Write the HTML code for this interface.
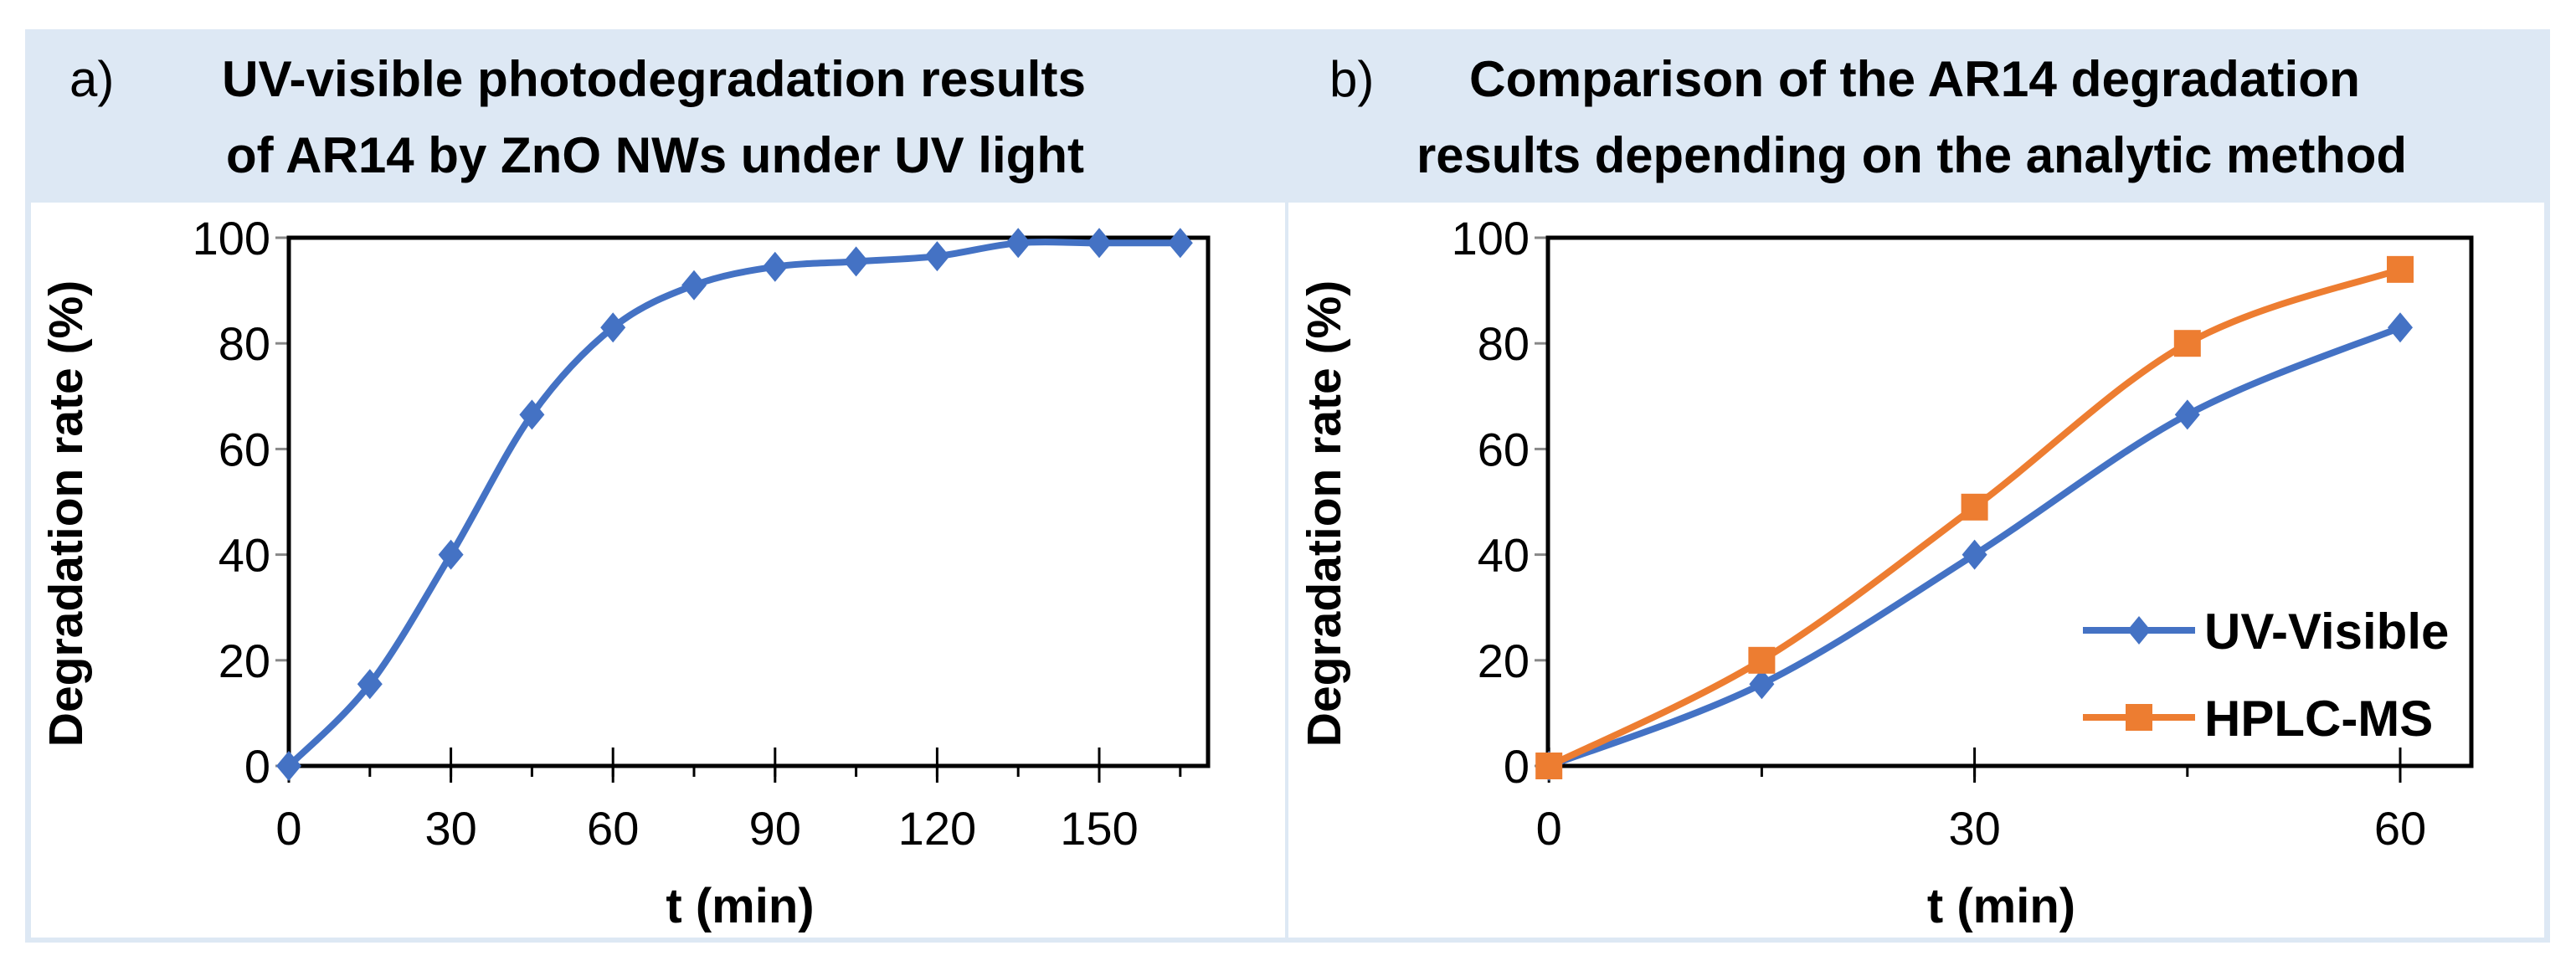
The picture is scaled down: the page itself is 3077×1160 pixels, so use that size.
<!DOCTYPE html>
<html><head><meta charset="utf-8"><style>
html,body{margin:0;padding:0;background:#fff;}
svg{display:block;}
text{font-family:"Liberation Sans Narrow","Liberation Sans",sans-serif;fill:#000;}
</style></head><body>
<svg id="fig" width="3077" height="1160" viewBox="0 0 3077 1160" xmlns="http://www.w3.org/2000/svg">
<rect x="30" y="35" width="3016" height="1091" fill="#dde8f4"/>
<rect x="37" y="242" width="1498" height="878" fill="#fff"/>
<rect x="1539" y="242" width="1500" height="878" fill="#fff"/>
<text x="83" y="115" font-size="60">a)</text>
<text x="265" y="115" font-size="60" font-weight="bold" textLength="1032" lengthAdjust="spacingAndGlyphs">UV-visible photodegradation results</text>
<text x="270" y="206" font-size="60" font-weight="bold" textLength="1025" lengthAdjust="spacingAndGlyphs">of AR14 by ZnO NWs under UV light</text>
<text x="1588" y="115" font-size="60">b)</text>
<text x="1755" y="115" font-size="60" font-weight="bold" textLength="1064" lengthAdjust="spacingAndGlyphs">Comparison of the AR14 degradation</text>
<text x="1692" y="206" font-size="60" font-weight="bold" textLength="1183" lengthAdjust="spacingAndGlyphs">results depending on the analytic method</text>
<g id="ga"></g><g id="gb"></g>
</svg>
<script>
const tA = [0,15,30,45,60,75,90,105,120,135,150,165];
const uvA = [0,15.5,40,66.5,83,91,94.5,95.5,96.5,99,99,99];
const tickA = [0,30,60,90,120,150];
const tB = [0,15,30,45,60];
const uvB = [0,15.5,40,66.5,83];
const hplcB = [0,20,49,80,94];
const tickB = [0,30,60];
const yTicks = [0,20,40,60,80,100];

const NS="http://www.w3.org/2000/svg";
function mk(p,tag,attrs){const e=document.createElementNS(NS,tag);for(const k in attrs)e.setAttribute(k,attrs[k]);p.appendChild(e);return e;}
function smooth(pts){
  let d="M"+pts[0][0]+","+pts[0][1];
  for(let i=0;i<pts.length-1;i++){
    const p0=pts[i-1]||pts[i],p1=pts[i],p2=pts[i+1],p3=pts[i+2]||p2;
    const t=1/6;
    d+=" C"+(p1[0]+(p2[0]-p0[0])*t)+","+(p1[1]+(p2[1]-p0[1])*t)+" "+(p2[0]-(p3[0]-p1[0])*t)+","+(p2[1]-(p3[1]-p1[1])*t)+" "+p2[0]+","+p2[1];
  }
  return d;
}
function panel(g,o){
  const X=v=>o.x0+(v-o.xmin)/(o.xmax-o.xmin)*(o.x1-o.x0);
  const Y=v=>o.yb-(v/100)*(o.yb-o.yt);
  yTicks.forEach(v=>{
    const l=mk(g,"line",{x1:o.x0-16,x2:o.x0,y1:Y(v),y2:Y(v),stroke:"#888","stroke-width":3});
    
    
    const t=mk(g,"text",{x:o.x0-22,y:Y(v)+20,"font-size":56,"text-anchor":"end"});
    t.textContent=v;
    
    
  });
  o.minor.forEach(v=>{
    const l=mk(g,"line",{x1:X(v),x2:X(v),y1:o.yb,y2:o.yb+13,stroke:"#000","stroke-width":3});
    
    
  });
  o.major.forEach(v=>{
    const l=mk(g,"line",{x1:X(v),x2:X(v),y1:o.yb-22,y2:o.yb+20,stroke:"#000","stroke-width":3});
    
    
    const t=mk(g,"text",{x:X(v),y:o.yb+94,"font-size":56,"text-anchor":"middle"});
    t.textContent=v;
    
    
  });
  const r=mk(g,"rect",{x:o.x0,y:o.yt,width:o.x1-o.x0,height:o.yb-o.yt,fill:"none",stroke:"#000","stroke-width":5});
  
  
  const yt=mk(g,"text",{x:0,y:0,"font-size":57,"font-weight":"bold","text-anchor":"middle",transform:"translate("+(o.ytx)+","+((o.yt+o.yb)/2+14)+") rotate(-90)",style:"font-family:'Liberation Sans',sans-serif"});
  yt.textContent="Degradation rate (%)";
  
  
  const xt=mk(g,"text",{x:(o.x0+o.x1)/2-10,y:1102,"font-size":58,"font-weight":"bold","text-anchor":"middle"});
  xt.textContent="t (min)";
  
  
  o.series.forEach(s=>{
    const pts=s.t.map((t,i)=>[X(t),Y(s.v[i])]);
    const p=mk(g,"path",{d:smooth(pts),fill:"none",stroke:s.c,"stroke-width":8,"stroke-linejoin":"round"});
    
    
    pts.forEach(q=>{
      let m;
      if(s.m==="d"){m=mk(g,"polygon",{points:(q[0])+","+(q[1]-18)+" "+(q[0]+15)+","+q[1]+" "+q[0]+","+(q[1]+18)+" "+(q[0]-15)+","+q[1],fill:s.c});}
      else{m=mk(g,"rect",{x:q[0]-16,y:q[1]-16,width:32,height:32,fill:s.c});}
      
      
    });
  });
}
panel(document.getElementById("ga"),{x0:345,x1:1443,xmin:0,xmax:(1443-345)/(1314-346)*150,yt:284,yb:915,ytx:98,minor:tA,major:tickA,
  series:[{t:tA,v:uvA,c:"#4472c4",m:"d",name:"uv-visible-a"}]});
panel(document.getElementById("gb"),{x0:1849,x1:2952,xmin:-0.07,xmax:(2952-1850)/(2867-1850)*60,yt:284,yb:915,ytx:1601,minor:tB,major:tickB,
  series:[{t:tB,v:uvB,c:"#4472c4",m:"d",name:"uv-visible-b"},{t:tB,v:hplcB,c:"#ed7d31",m:"s",name:"hplc-ms"}]});
const gb=document.getElementById("gb");
const lg=mk(gb,"g",{});


[["UV-Visible","#4472c4","d",753],["HPLC-MS","#ed7d31","s",857]].forEach(e=>{
  const l=mk(lg,"line",{x1:2488,x2:2622,y1:e[3],y2:e[3],stroke:e[1],"stroke-width":8});
  
  
  let m;
  if(e[2]==="d")m=mk(lg,"polygon",{points:"2555,"+(e[3]-17)+" 2569,"+e[3]+" 2555,"+(e[3]+17)+" 2541,"+e[3],fill:e[1]});
  else m=mk(lg,"rect",{x:2539,y:e[3]-16,width:32,height:32,fill:e[1]});
  
  
  const t=mk(lg,"text",{x:2633,y:e[3]+22,"font-size":60,"font-weight":"bold"});
  t.textContent=e[0];
  
  
});
</script>
</body></html>
